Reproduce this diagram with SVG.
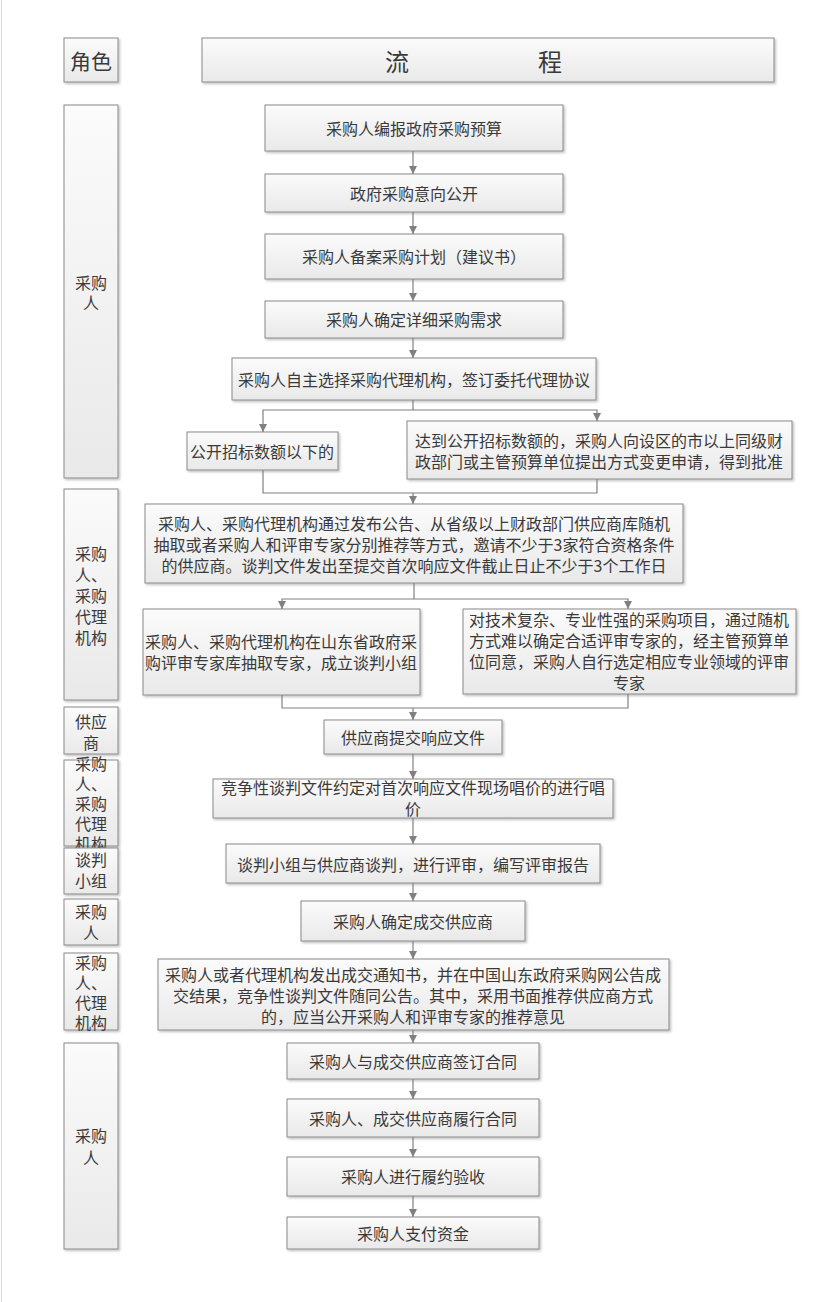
<svg xmlns="http://www.w3.org/2000/svg" width="827" height="1302" viewBox="0 0 827 1302">
<style>
.box{fill:url(#g);stroke:#8a8a8a;stroke-width:1;filter:url(#sh)}
.t{font-family:"Noto Sans CJK SC","Noto Sans",sans-serif;font-size:16px;fill:#3a3a3a;text-anchor:middle;dominant-baseline:central}
.r{font-family:"Noto Sans CJK SC","Noto Sans",sans-serif;font-size:16px;fill:#3a3a3a;text-anchor:middle;dominant-baseline:central}
.h{font-family:"Noto Sans CJK SC","Noto Sans",sans-serif;font-size:24px;fill:#3a3a3a;text-anchor:middle;dominant-baseline:central}
.c{fill:none;stroke:#808080;stroke-width:1.2}
.a{marker-end:url(#ar)}
</style>
<defs>
<linearGradient id="g" x1="0" y1="0" x2="0" y2="1">
<stop offset="0" stop-color="#fbfbfb"/>
<stop offset="1" stop-color="#e9e9e9"/>
</linearGradient>
<filter id="sh" x="-10%" y="-10%" width="130%" height="140%">
<feDropShadow dx="1.5" dy="1.5" stdDeviation="1" flood-color="#000" flood-opacity="0.25"/>
</filter>
<marker id="ar" markerUnits="userSpaceOnUse" markerWidth="8" markerHeight="8" refX="8" refY="4" orient="auto">
<path d="M0,0 L8,4 L0,8 z" fill="#808080"/>
</marker>
</defs>
<rect width="827" height="1302" fill="#ffffff"/>
<line x1="1.5" y1="0" x2="1.5" y2="1302" stroke="#d9d9d9" stroke-width="1"/>

<g id="header-role"><rect class="box" x="64" y="38" width="54" height="44"/><text class="h" x="91" y="60" style="font-size:21px">角色</text></g>
<g id="header-flow"><rect class="box" x="202" y="38" width="572" height="44"/><text class="h" x="397" y="60">流</text><text class="h" x="550" y="60">程</text></g>

<g id="role1"><rect class="box" x="64" y="105" width="54" height="373"/><text class="r"><tspan x="91" y="282">采购</tspan><tspan x="91" y="302">人</tspan></text></g>
<g id="role2"><rect class="box" x="64" y="489" width="54" height="211"/><text class="r"><tspan x="91" y="553">采购</tspan><tspan x="91" y="574">人、</tspan><tspan x="91" y="595">采购</tspan><tspan x="91" y="616">代理</tspan><tspan x="91" y="637">机构</tspan></text></g>
<g id="role3"><rect class="box" x="64" y="707" width="54" height="47"/><text class="r"><tspan x="91" y="721">供应</tspan><tspan x="91" y="742">商</tspan></text></g>
<g id="role4"><rect class="box" x="64" y="760" width="54" height="86"/><text class="r"><tspan x="91" y="763">采购</tspan><tspan x="91" y="783">人、</tspan><tspan x="91" y="803">采购</tspan><tspan x="91" y="823">代理</tspan><tspan x="91" y="843">机构</tspan></text></g>
<g id="role5"><rect class="box" x="64" y="848" width="54" height="46"/><text class="r"><tspan x="91" y="859">谈判</tspan><tspan x="91" y="880">小组</tspan></text></g>
<g id="role6"><rect class="box" x="64" y="899" width="54" height="46"/><text class="r"><tspan x="91" y="911">采购</tspan><tspan x="91" y="932">人</tspan></text></g>
<g id="role7"><rect class="box" x="64" y="953" width="54" height="77"/><text class="r"><tspan x="91" y="962">采购</tspan><tspan x="91" y="982">人、</tspan><tspan x="91" y="1002">代理</tspan><tspan x="91" y="1022">机构</tspan></text></g>
<g id="role8"><rect class="box" x="64" y="1043" width="54" height="206"/><text class="r"><tspan x="91" y="1135">采购</tspan><tspan x="91" y="1157">人</tspan></text></g>

<g id="n1"><rect class="box" x="265" y="105" width="298" height="46"/><text class="t" x="414" y="128">采购人编报政府采购预算</text></g>
<g id="n2"><rect class="box" x="265" y="174" width="298" height="38"/><text class="t" x="414" y="193">政府采购意向公开</text></g>
<g id="n3"><rect class="box" x="265" y="234" width="298" height="45"/><text class="t" x="414" y="256">采购人备案采购计划（建议书）</text></g>
<g id="n4"><rect class="box" x="265" y="301" width="298" height="37"/><text class="t" x="414" y="319">采购人确定详细采购需求</text></g>
<g id="n5"><rect class="box" x="232" y="358" width="364" height="42"/><text class="t" x="414" y="379">采购人自主选择采购代理机构，签订委托代理协议</text></g>
<g id="n6"><rect class="box" x="187" y="432" width="151" height="38"/><text class="t" x="262" y="451">公开招标数额以下的</text></g>
<g id="n7"><rect class="box" x="407" y="421" width="385" height="58"/><text class="t"><tspan x="599" y="440">达到公开招标数额的，采购人向设区的市以上同级财</tspan><tspan x="599" y="461">政部门或主管预算单位提出方式变更申请，得到批准</tspan></text></g>
<g id="n8"><rect class="box" x="145" y="504" width="538" height="79"/><text class="t"><tspan x="414" y="523">采购人、采购代理机构通过发布公告、从省级以上财政部门供应商库随机</tspan><tspan x="414" y="544">抽取或者采购人和评审专家分别推荐等方式，邀请不少于3家符合资格条件</tspan><tspan x="414" y="565">的供应商。谈判文件发出至提交首次响应文件截止日止不少于3个工作日</tspan></text></g>
<g id="n9"><rect class="box" x="143" y="609" width="277" height="86"/><text class="t"><tspan x="281" y="641">采购人、采购代理机构在山东省政府采</tspan><tspan x="281" y="662">购评审专家库抽取专家，成立谈判小组</tspan></text></g>
<g id="n10"><rect class="box" x="463" y="609" width="333" height="85"/><text class="t"><tspan x="629" y="619">对技术复杂、专业性强的采购项目，通过随机</tspan><tspan x="629" y="640">方式难以确定合适评审专家的，经主管预算单</tspan><tspan x="629" y="661">位同意，采购人自行选定相应专业领域的评审</tspan><tspan x="629" y="682">专家</tspan></text></g>
<g id="n11"><rect class="box" x="324" y="720" width="178" height="34"/><text class="t" x="413" y="737">供应商提交响应文件</text></g>
<g id="n12"><rect class="box" x="213" y="779" width="400" height="39"/><text class="t"><tspan x="413" y="787">竞争性谈判文件约定对首次响应文件现场唱价的进行唱</tspan><tspan x="413" y="808">价</tspan></text></g>
<g id="n13"><rect class="box" x="226" y="844" width="374" height="39"/><text class="t" x="413" y="864">谈判小组与供应商谈判，进行评审，编写评审报告</text></g>
<g id="n14"><rect class="box" x="301" y="901" width="224" height="40"/><text class="t" x="413" y="921">采购人确定成交供应商</text></g>
<g id="n15"><rect class="box" x="158" y="959" width="511" height="71"/><text class="t"><tspan x="413" y="974">采购人或者代理机构发出成交通知书，并在中国山东政府采购网公告成</tspan><tspan x="413" y="995">交结果，竞争性谈判文件随同公告。其中，采用书面推荐供应商方式</tspan><tspan x="413" y="1016">的，应当公开采购人和评审专家的推荐意见</tspan></text></g>
<g id="n16"><rect class="box" x="287" y="1043" width="252" height="36"/><text class="t" x="413" y="1061">采购人与成交供应商签订合同</text></g>
<g id="n17"><rect class="box" x="287" y="1099" width="252" height="38"/><text class="t" x="413" y="1118">采购人、成交供应商履行合同</text></g>
<g id="n18"><rect class="box" x="287" y="1157" width="252" height="39"/><text class="t" x="413" y="1176">采购人进行履约验收</text></g>
<g id="n19"><rect class="box" x="287" y="1217" width="252" height="32"/><text class="t" x="413" y="1233">采购人支付资金</text></g>

<g id="connectors">
<line class="c a" x1="413" y1="151" x2="413" y2="174"/>
<line class="c a" x1="413" y1="212" x2="413" y2="234"/>
<line class="c a" x1="413" y1="279" x2="413" y2="301"/>
<line class="c a" x1="413" y1="338" x2="413" y2="358"/>
<polyline class="c" points="413,400 413,410"/>
<polyline class="c a" points="413,410 263,410 263,432"/>
<polyline class="c a" points="413,410 597,410 597,421"/>
<polyline class="c" points="263,470 263,493 597,493 597,479"/>
<line class="c a" x1="413" y1="493" x2="413" y2="504"/>
<polyline class="c" points="414,583 414,599"/>
<polyline class="c a" points="414,599 282,599 282,609"/>
<polyline class="c a" points="414,599 628,599 628,609"/>
<polyline class="c" points="282,695 282,708 628,708 628,694"/>
<line class="c a" x1="413" y1="708" x2="413" y2="720"/>
<line class="c a" x1="413" y1="754" x2="413" y2="779"/>
<line class="c a" x1="413" y1="818" x2="413" y2="844"/>
<line class="c a" x1="413" y1="883" x2="413" y2="901"/>
<line class="c a" x1="413" y1="941" x2="413" y2="959"/>
<line class="c a" x1="413" y1="1030" x2="413" y2="1043"/>
<line class="c a" x1="413" y1="1079" x2="413" y2="1099"/>
<line class="c a" x1="413" y1="1137" x2="413" y2="1157"/>
<line class="c a" x1="413" y1="1196" x2="413" y2="1217"/>
</g>
</svg>
